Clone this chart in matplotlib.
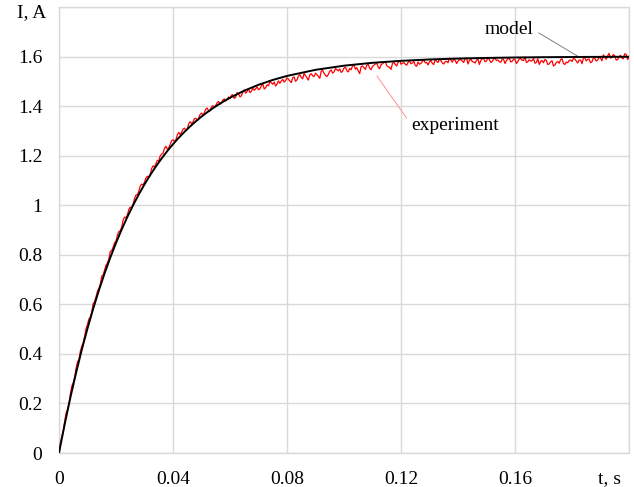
import numpy as np
import matplotlib
matplotlib.use('Agg')
import matplotlib.pyplot as plt

plt.rcParams['font.family'] = ['Liberation Serif', 'DejaVu Serif']

# model curve
t_model = [0, 0.002, 0.004, 0.006, 0.008, 0.010, 0.012, 0.014, 0.016, 0.018,
           0.020, 0.022, 0.024, 0.026, 0.028, 0.030, 0.032, 0.034, 0.036, 0.038,
           0.040, 0.042, 0.044, 0.046, 0.048, 0.050, 0.052, 0.054, 0.056, 0.058,
           0.060, 0.065, 0.070, 0.075, 0.080, 0.090, 0.100, 0.110, 0.120, 0.130,
           0.140, 0.150, 0.160, 0.170, 0.180, 0.190, 0.200]
i_model = [0, 0.1163, 0.2242, 0.3242, 0.4169, 0.5029, 0.5826, 0.6566, 0.7252, 0.7888,
           0.8477, 0.9024, 0.9531, 1.0001, 1.0437, 1.0842, 1.1217, 1.1564, 1.1887, 1.2186,
           1.2463, 1.2720, 1.2959, 1.3180, 1.3385, 1.3575, 1.3751, 1.3915, 1.4066, 1.4207,
           1.4337, 1.4623, 1.4860, 1.5056, 1.5218, 1.5464, 1.5632, 1.5748, 1.5827, 1.5882,
           1.5919, 1.5944, 1.5962, 1.5974, 1.5982, 1.5988, 1.5992]

# measured current, one sample every 0.5 ms (one row = 10 ms)
t_exp = np.linspace(0, 0.2, 401)
i_exp = [0.000, 0.041, 0.067, 0.089, 0.128, 0.162, 0.176, 0.198, 0.239, 0.270, 0.284, 0.306, 0.342, 0.368, 0.377, 0.411, 0.431, 0.445, 0.471, 0.502,
         0.519, 0.541, 0.548, 0.569, 0.603, 0.611, 0.631, 0.653, 0.664, 0.682, 0.714, 0.719, 0.738, 0.758, 0.767, 0.783, 0.814, 0.817, 0.831, 0.849,
         0.854, 0.879, 0.894, 0.897, 0.912, 0.940, 0.952, 0.949, 0.961, 0.983, 0.992, 0.990, 1.003, 1.027, 1.041, 1.043, 1.056, 1.077, 1.085, 1.082,
         1.093, 1.110, 1.117, 1.112, 1.124, 1.148, 1.159, 1.154, 1.167, 1.181, 1.179, 1.199, 1.206, 1.210, 1.229, 1.238, 1.227, 1.231, 1.246, 1.260,
         1.264, 1.258, 1.263, 1.284, 1.294, 1.285, 1.294, 1.307, 1.311, 1.302, 1.308, 1.328, 1.337, 1.330, 1.336, 1.349, 1.351, 1.342, 1.351, 1.366,
         1.372, 1.365, 1.373, 1.388, 1.392, 1.380, 1.381, 1.397, 1.402, 1.396, 1.403, 1.414, 1.419, 1.408, 1.411, 1.425, 1.429, 1.421, 1.428, 1.437,
         1.430, 1.444, 1.446, 1.431, 1.436, 1.455, 1.450, 1.437, 1.442, 1.458, 1.465, 1.452, 1.459, 1.470, 1.454, 1.460, 1.472, 1.464, 1.470, 1.478,
         1.466, 1.470, 1.482, 1.490, 1.469, 1.474, 1.486, 1.482, 1.499, 1.494, 1.488, 1.497, 1.481, 1.489, 1.502, 1.492, 1.501, 1.508, 1.497, 1.503,
         1.514, 1.509, 1.501, 1.495, 1.514, 1.518, 1.500, 1.506, 1.521, 1.527, 1.516, 1.510, 1.532, 1.523, 1.514, 1.505, 1.526, 1.531, 1.523, 1.519,
         1.533, 1.527, 1.520, 1.512, 1.541, 1.545, 1.532, 1.524, 1.519, 1.528, 1.541, 1.546, 1.533, 1.538, 1.552, 1.547, 1.542, 1.550, 1.536, 1.541,
         1.553, 1.558, 1.543, 1.538, 1.552, 1.547, 1.562, 1.566, 1.549, 1.555, 1.542, 1.531, 1.559, 1.562, 1.555, 1.548, 1.565, 1.569, 1.553, 1.547,
         1.560, 1.565, 1.570, 1.574, 1.557, 1.551, 1.567, 1.571, 1.576, 1.580, 1.563, 1.559, 1.556, 1.548, 1.572, 1.577, 1.568, 1.562, 1.578, 1.583,
         1.569, 1.573, 1.576, 1.569, 1.565, 1.577, 1.582, 1.571, 1.574, 1.580, 1.564, 1.561, 1.578, 1.569, 1.572, 1.581, 1.586, 1.575, 1.576, 1.566,
         1.579, 1.584, 1.572, 1.568, 1.589, 1.581, 1.576, 1.590, 1.584, 1.574, 1.570, 1.579, 1.581, 1.575, 1.594, 1.586, 1.577, 1.590, 1.585, 1.572,
         1.581, 1.587, 1.588, 1.582, 1.576, 1.593, 1.594, 1.570, 1.585, 1.589, 1.580, 1.578, 1.574, 1.585, 1.589, 1.568, 1.584, 1.591, 1.592, 1.579,
         1.582, 1.596, 1.588, 1.576, 1.580, 1.591, 1.592, 1.584, 1.586, 1.579, 1.577, 1.590, 1.588, 1.572, 1.584, 1.591, 1.594, 1.578, 1.581, 1.589,
         1.588, 1.572, 1.580, 1.591, 1.592, 1.585, 1.584, 1.598, 1.576, 1.579, 1.587, 1.582, 1.583, 1.592, 1.573, 1.576, 1.591, 1.568, 1.580, 1.584,
         1.575, 1.588, 1.585, 1.568, 1.570, 1.579, 1.583, 1.562, 1.566, 1.576, 1.580, 1.573, 1.588, 1.591, 1.572, 1.568, 1.578, 1.575, 1.584, 1.586,
         1.580, 1.592, 1.590, 1.582, 1.574, 1.586, 1.586, 1.571, 1.594, 1.596, 1.582, 1.589, 1.590, 1.575, 1.579, 1.594, 1.593, 1.582, 1.586, 1.597,
         1.594, 1.583, 1.607, 1.598, 1.589, 1.602, 1.613, 1.594, 1.597, 1.608, 1.603, 1.586, 1.587, 1.599, 1.605, 1.594, 1.591, 1.611, 1.609, 1.588,
         1.596]

x_ticks = [0, 0.04, 0.08, 0.12, 0.16, 0.2]
x_labels = ['0', '0.04', '0.08', '0.12', '0.16', '']
y_ticks = [0, 0.2, 0.4, 0.6, 0.8, 1.0, 1.2, 1.4, 1.6, 1.8]
y_labels = ['0', '0.2', '0.4', '0.6', '0.8', '1', '1.2', '1.4', '1.6', '']

grid_c = '#d9d9d9'

fig = plt.figure(figsize=(6.34, 4.87), dpi=100)
ax = fig.add_axes([59 / 634, 1 - 453 / 487, 570 / 634, 446 / 487])

ax.plot(t_exp, i_exp, color='red', lw=0.9, zorder=3)
ax.plot(t_model, i_model, color='black', lw=1.4, zorder=4)

ax.set_xlim(0, 0.2)
ax.set_ylim(0, 1.8)
ax.set_xticks(x_ticks)
ax.set_xticklabels(x_labels)
ax.set_yticks(y_ticks)
ax.set_yticklabels(y_labels)
ax.tick_params(axis='both', length=0, labelsize=14)
ax.tick_params(axis='x', pad=13)
ax.tick_params(axis='y', pad=12)
ax.grid(True, color=grid_c, lw=1)
ax.set_axisbelow(True)
for s in ax.spines.values():
    s.set_color(grid_c)
    s.set_linewidth(1)

# axis titles sit where the last tick labels would be
fig.text(17 / 634, 1 - 13 / 487, 'I, A', fontsize=14, ha='left', va='center')
fig.text(610 / 634, 1 - 479 / 487, 't, s', fontsize=14, ha='center', va='center')

# callouts
ax.annotate('model', xy=(0.1825, 1.598), xytext=(0.1665, 1.708),
            fontsize=14, ha='right', va='center',
            arrowprops=dict(arrowstyle='-', color='#808080', lw=0.7,
                            relpos=(1, 0.5), shrinkA=2, shrinkB=0))
ax.annotate('experiment', xy=(0.1115, 1.522), xytext=(0.1235, 1.32),
            fontsize=14, ha='left', va='center',
            arrowprops=dict(arrowstyle='-', color='#ff9090', lw=0.7,
                            relpos=(0, 0.6), shrinkA=2, shrinkB=0))

fig.savefig('out.png', dpi=100)
